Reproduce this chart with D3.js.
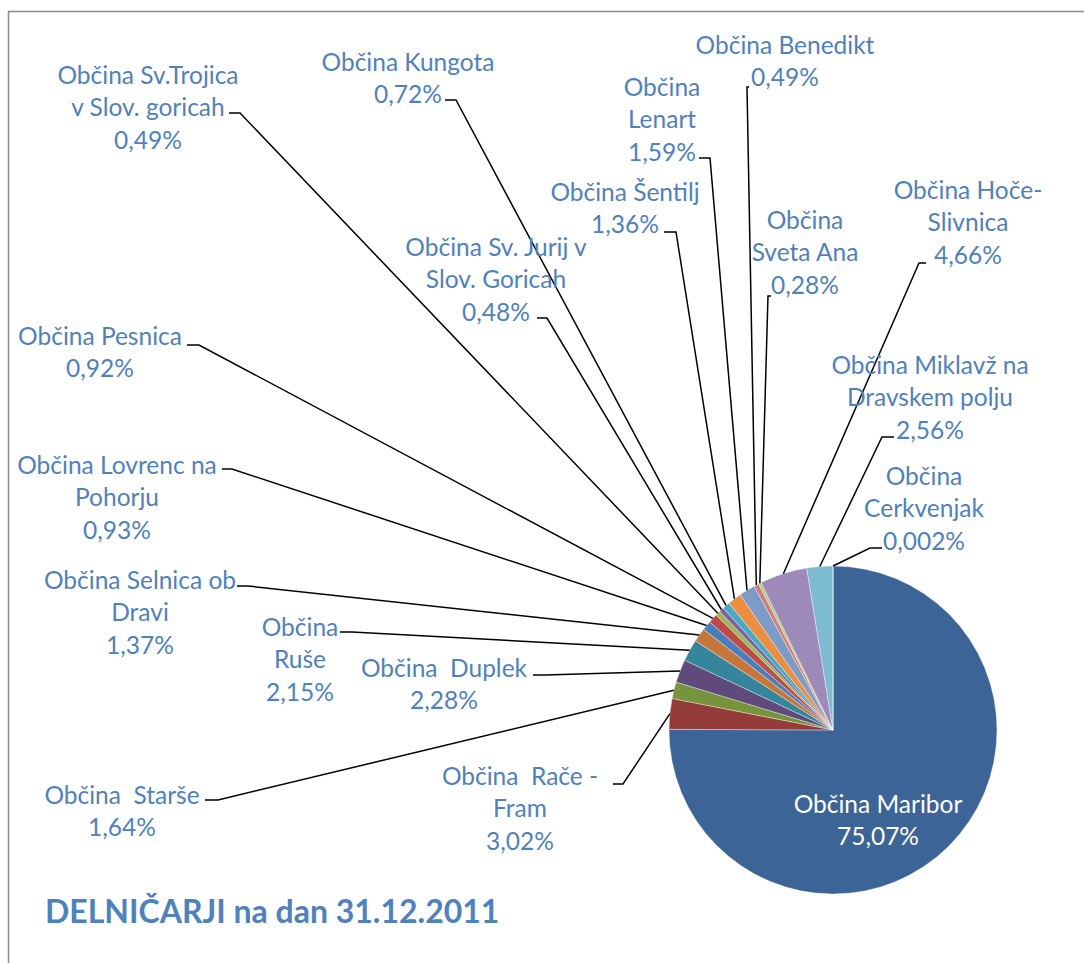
<!DOCTYPE html>
<html>
<head>
<meta charset="utf-8">
<script src="https://cdn.jsdelivr.net/npm/d3@7"></script>
<style>
  body { margin: 0; background: #fff; }
  text { font-family: Lato, "Open Sans", sans-serif; white-space: pre; }
</style>
</head>
<body>
<div id="chart"></div>
<script>
// občine (line breaks where the label wraps)
const categories = [
  "Občina Maribor",
  "Občina  Rače -\nFram",
  "Občina  Starše",
  "Občina  Duplek",
  "Občina\nRuše",
  "Občina Selnica ob\nDravi",
  "Občina Lovrenc na\nPohorju",
  "Občina Pesnica",
  "Občina Sv.Trojica\nv Slov. goricah",
  "Občina Sv. Jurij v\nSlov. Goricah",
  "Občina Kungota",
  "Občina Šentilj",
  "Občina\nLenart",
  "Občina Benedikt",
  "Občina\nSveta Ana",
  "Občina Hoče-\nSlivnica",
  "Občina Miklavž na\nDravskem polju",
  "Občina\nCerkvenjak"
];
// delež delničarjev v %
const values = [75.07, 3.02, 1.64, 2.28, 2.15, 1.37, 0.93, 0.92, 0.49, 0.48, 0.72, 1.36, 1.59, 0.49, 0.28, 4.66, 2.56, 0.002];
const title = "DELNIČARJI na dan 31.12.2011";

// excel 2010 point colours: darker, normal, lighter accents
const colors = [
  "#3c6496", "#943c39", "#77933c", "#604a7b", "#35869c", "#c6763a",
  "#4a7ebb", "#be4b48", "#98b954", "#7d60a0", "#46aac5", "#ec8e42",
  "#7e9bc8", "#cc7f7e", "#b3cb84", "#9e8ab8", "#7dbbd2", "#f8b27d"
];

// manual label placement (centre x, first line y) and leader start/elbow
const labelLayout = [
  {x: 878, y: 804, inside: true},
  {x: 520, y: 776, lead: [[613, 784], [623, 784]]},
  {x: 122, y: 795, lead: [[205, 800], [218, 800]]},
  {x: 444, y: 668, lead: [[533, 675], [545, 675]]},
  {x: 300, y: 627, lead: [[340, 632], [352, 632]]},
  {x: 140, y: 580, lead: [[237, 586], [248, 586]]},
  {x: 117, y: 465, lead: [[222, 469], [232, 469]]},
  {x: 100, y: 336, lead: [[187, 345], [199, 345]]},
  {x: 148, y: 75, lead: [[229, 113], [240, 113]]},
  {x: 496, y: 247, lead: [[537, 318], [547, 318]]},
  {x: 408, y: 62, lead: [[445, 100], [456, 100]]},
  {x: 625, y: 192, lead: [[664, 232], [676, 232]]},
  {x: 662, y: 87, lead: [[699, 158], [710, 158]]},
  {x: 785, y: 45, lead: [[749, 87], [747, 87]]},
  {x: 805, y: 220, lead: [[771, 296], [768, 296]]},
  {x: 968, y: 190, lead: [[926, 263], [919, 263]]},
  {x: 930, y: 365, lead: [[894, 437], [882, 437]]},
  {x: 924, y: 476, lead: [[882, 548], [870, 548]]}
];

const width = 1084, height = 963;
const cx = 833, cy = 730, r = 164;
const lineH = 32.5;

const loc = d3.formatLocale({decimal: ",", thousands: ".", grouping: [3], currency: ["", "€"]});
const pct = v => (v < 0.01 ? loc.format(".3f")(v) : loc.format(".2f")(v)) + "%";

const data = categories.map((c, i) => ({name: c, value: values[i], i: i}));

const svg = d3.select("#chart").append("svg")
    .attr("width", width)
    .attr("height", height);

// frame
svg.append("path")
    .attr("d", `M8.5,${height} L8.5,11.5 L${width},11.5`)
    .attr("fill", "none")
    .attr("stroke", "#8c8c8c")
    .attr("stroke-width", 1.5);

const pie = d3.pie().sort(null).value(d => d.value);
const arc = d3.arc().innerRadius(0).outerRadius(r);
const arcs = pie(data);

const g = svg.append("g").attr("transform", `translate(${cx},${cy})`);

g.selectAll("path")
  .data(arcs)
  .join("path")
    .attr("d", arc)
    .attr("fill", d => colors[d.data.i])
    .attr("stroke", "#fff")
    .attr("stroke-opacity", 0.6)
    .attr("stroke-width", 0.6);

// leader lines
const edge = d => {
  const a = (d.startAngle + d.endAngle) / 2;
  return [cx + r * Math.sin(a), cy - r * Math.cos(a)];
};

svg.append("g")
  .selectAll("path")
  .data(arcs.filter(d => !labelLayout[d.data.i].inside))
  .join("path")
    .attr("d", d => d3.line()([...labelLayout[d.data.i].lead, edge(d)]))
    .attr("fill", "none")
    .attr("stroke", "#000")
    .attr("stroke-width", 1.5);

// labels
const labels = svg.append("g")
    .style("font-size", "24.5px")
    .attr("text-anchor", "middle")
  .selectAll("text")
  .data(arcs)
  .join("text")
    .attr("fill", d => labelLayout[d.data.i].inside ? "#fff" : "#4f81bd")
    .attr("x", d => labelLayout[d.data.i].x)
    .attr("y", d => labelLayout[d.data.i].y);

labels.each(function(d) {
  const lines = d.data.name.split("\n").concat([pct(d.data.value)]);
  const L = labelLayout[d.data.i];
  d3.select(this).selectAll("tspan")
    .data(lines)
    .join("tspan")
      .attr("x", L.x)
      .attr("y", (s, k) => L.y + k * lineH)
      .attr("dy", "0.35em")
      .text(s => s);
});

svg.append("text")
    .attr("x", 45)
    .attr("y", 912)
    .attr("dy", "0.35em")
    .attr("fill", "#4f81bd")
    .style("font-size", "32px")
    .style("font-weight", "bold")
    .text(title);
</script>
</body>
</html>
